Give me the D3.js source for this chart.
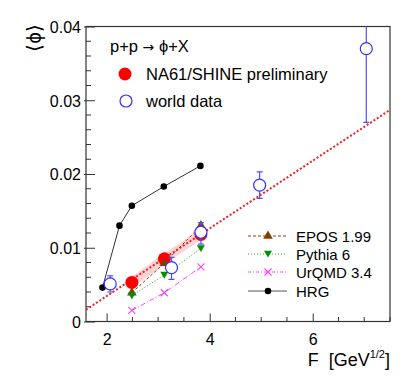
<!DOCTYPE html>
<meta charset="utf-8">
<style>
body { margin: 0; background: #fff; }
text { font-family: "Liberation Sans", Arial, sans-serif; fill: #000; }
</style>
<svg width="415" height="382"></svg>
<script src="https://d3js.org/d3.v7.min.js"></script>
<script>

// NA61/SHINE preliminary
var na61F = [2.49, 3.12, 3.83];
var na61Phi = [0.0053, 0.0085, 0.0118];

// world data with errors
var worldF = [2.07, 3.26, 3.83, 4.97, 7.04];
var worldPhi = [0.0051, 0.0073, 0.0121, 0.0185, 0.0370];
var worldLo = [0.0040, 0.0057, 0.0105, 0.0167, 0.0270];
var worldHi = [0.0062, 0.0087, 0.0134, 0.0203, 0.0420];

// models
var modelF = [2.49, 3.12, 3.83];
var eposPhi = [0.0039, 0.0079, 0.0130];
var pythiaPhi = [0.0035, 0.0063, 0.0099];
var urqmdPhi = [0.0015, 0.0039, 0.0074];

var hrgF = [1.92, 2.25, 2.49, 3.11, 3.82];
var hrgPhi = [0.0046, 0.0130, 0.0157, 0.0183, 0.0211];

// linear fit  phi = a + b*F
var fitA = -0.00574, fitB = 0.00459;

var xTicks = [2, 4, 6];
var yTicks = [0, 0.01, 0.02, 0.03, 0.04];

var svg = d3.select("svg");
var mLeft = 86, mRight = 390, mTop = 26.5, mBottom = 321.5;

var x = d3.scaleLinear().domain([1.6, 7.5]).range([mLeft, mRight]);
var y = d3.scaleLinear().domain([0, 0.04]).range([mBottom, mTop]);

var defs = svg.append("defs");
defs.append("clipPath").attr("id", "clip")
  .append("rect").attr("x", mLeft).attr("y", mTop).attr("width", mRight - mLeft).attr("height", mBottom - mTop);

// frame
svg.append("rect")
    .attr("x", mLeft).attr("y", mTop)
    .attr("width", mRight - mLeft).attr("height", mBottom - mTop)
    .attr("fill", "none").attr("stroke", "#333").attr("stroke-width", 1.2);

// axes (ticks inside, ROOT style)
var xAxis = d3.axisBottom(x).tickValues(xTicks).tickFormat(d3.format("d")).tickSizeInner(-8).tickSizeOuter(0).tickPadding(12);
var gx = svg.append("g").attr("transform", "translate(0," + mBottom + ")").call(xAxis);
var yAxis = d3.axisLeft(y).tickValues(yTicks).tickFormat(function(d) { return d === 0 ? "0" : d3.format(".2f")(d); })
    .tickSizeInner(-9).tickSizeOuter(0).tickPadding(5);
var gy = svg.append("g").attr("transform", "translate(" + mLeft + ",0)").call(yAxis);
[gx, gy].forEach(function(g) {
  g.select(".domain").remove();
  g.attr("font-size", null).attr("font-family", null);
  g.selectAll(".tick line").attr("stroke", "#333");
  g.selectAll("text").attr("font-size", 16).attr("fill", "#000");
});
gy.selectAll(".tick line").attr("x1", -2);
gy.selectAll("text").attr("dy", "0.36em");

// minor ticks
svg.append("g").selectAll("line")
  .data(d3.range(2, 7.51, 0.5).filter(function(v) { return xTicks.indexOf(v) < 0; }))
  .enter().append("line")
    .attr("x1", function(d) { return x(d); }).attr("x2", function(d) { return x(d); })
    .attr("y1", mBottom).attr("y2", mBottom - 4.5)
    .attr("stroke", "#333");
svg.append("g").selectAll("line")
  .data(d3.range(0, 0.0401, 0.002).filter(function(v) { return Math.abs(v * 100 - Math.round(v * 100)) > 1e-6; }))
  .enter().append("line")
    .attr("x1", mLeft).attr("x2", mLeft + 5)
    .attr("y1", function(d) { return y(d); }).attr("y2", function(d) { return y(d); })
    .attr("stroke", "#333");

// axis titles
svg.append("text")
    .attr("transform", "translate(41,38) rotate(-90)")
    .attr("text-anchor", "middle").attr("font-size", 20)
    .text("\u27E8\u03D5\u27E9");
var xt = svg.append("text")
    .attr("x", 390).attr("y", 366)
    .attr("text-anchor", "end").attr("font-size", 18);
xt.append("tspan").text("F\u00A0\u00A0[GeV");
xt.append("tspan").attr("font-size", 11).attr("dy", -8).text("1/2");
xt.append("tspan").attr("dy", 8).text("]");

var plot = svg.append("g").attr("clip-path", "url(#clip)");

function pts(F, P) { return F.map(function(f, i) { return [f, P[i]]; }); }
var line = d3.line().x(function(d) { return x(d[0]); }).y(function(d) { return y(d[1]); });

// red band along NA61 points
plot.append("path")
    .attr("d", line(pts(na61F, na61Phi)))
    .attr("fill", "none").attr("stroke", "#ff9090").attr("stroke-opacity", 0.4).attr("stroke-width", 9);

// fit line
plot.append("path")
    .attr("d", line([[1.6, fitA + fitB * 1.6], [7.5, fitA + fitB * 7.5]]))
    .attr("fill", "none").attr("stroke", "#f02020").attr("stroke-width", 2).attr("stroke-dasharray", "2,2");

// HRG
plot.append("path").attr("d", line(pts(hrgF, hrgPhi)))
    .attr("fill", "none").attr("stroke", "#333").attr("stroke-width", 1);
plot.selectAll(".hrg").data(pts(hrgF, hrgPhi)).enter().append("circle")
    .attr("cx", function(d) { return x(d[0]); }).attr("cy", function(d) { return y(d[1]); })
    .attr("r", 3.3).attr("fill", "#000");

// model lines
plot.append("path").attr("d", line(pts(modelF, eposPhi)))
    .attr("fill", "none").attr("stroke", "#8b4513").attr("stroke-width", 1).attr("stroke-dasharray", "3,2");
plot.append("path").attr("d", line(pts(modelF, pythiaPhi)))
    .attr("fill", "none").attr("stroke", "#20b020").attr("stroke-width", 1).attr("stroke-dasharray", "1,2");
plot.append("path").attr("d", line(pts(modelF, urqmdPhi)))
    .attr("fill", "none").attr("stroke", "#ff40ff").attr("stroke-width", 1).attr("stroke-dasharray", "5,2,1,2");

var triUp = d3.symbol().type(d3.symbolTriangle).size(40);
function triDown(cx, cy, s) { return "M" + (cx - s) + "," + (cy - s * 0.8) + "L" + (cx + s) + "," + (cy - s * 0.8) + "L" + cx + "," + (cy + s * 0.9) + "Z"; }
function cross(cx, cy, s) { return "M" + (cx - s) + "," + (cy - s) + "L" + (cx + s) + "," + (cy + s) + "M" + (cx - s) + "," + (cy + s) + "L" + (cx + s) + "," + (cy - s); }

// NA61 red filled circles
plot.selectAll(".na61").data(pts(na61F, na61Phi)).enter().append("circle")
    .attr("cx", function(d) { return x(d[0]); }).attr("cy", function(d) { return y(d[1]); })
    .attr("r", 6.5).attr("fill", "#ff0000");

// EPOS
plot.selectAll(".epos").data(pts(modelF, eposPhi)).enter().append("path")
    .attr("transform", function(d) { return "translate(" + x(d[0]) + "," + y(d[1]) + ")"; })
    .attr("d", triUp).attr("fill", "#7f3f00");
// Pythia
plot.selectAll(".pythia").data(pts(modelF, pythiaPhi)).enter().append("path")
    .attr("d", function(d) { return triDown(x(d[0]), y(d[1]), 4); }).attr("fill", "#009000");
// UrQMD
plot.selectAll(".urqmd").data(pts(modelF, urqmdPhi)).enter().append("path")
    .attr("d", function(d) { return cross(x(d[0]), y(d[1]), 3.5); })
    .attr("stroke", "#ff40ff").attr("stroke-width", 1.1).attr("fill", "none");

// world data
var world = worldF.map(function(f, i) { return { f: f, v: worldPhi[i], lo: worldLo[i], hi: worldHi[i] }; });
var wg = plot.selectAll(".world").data(world).enter().append("g");
wg.append("line")
    .attr("x1", function(d) { return x(d.f); }).attr("x2", function(d) { return x(d.f); })
    .attr("y1", function(d) { return y(d.lo); }).attr("y2", function(d) { return y(d.hi); })
    .attr("stroke", "#5050ff").attr("stroke-width", 1.2);
["lo", "hi"].forEach(function(k) {
  wg.append("line")
      .attr("x1", function(d) { return x(d.f) - 3; }).attr("x2", function(d) { return x(d.f) + 3; })
      .attr("y1", function(d) { return y(d[k]); }).attr("y2", function(d) { return y(d[k]); })
      .attr("stroke", "#5050ff").attr("stroke-width", 1.2);
});
wg.append("circle")
    .attr("cx", function(d) { return x(d.f); }).attr("cy", function(d) { return y(d.v); })
    .attr("r", 6).attr("fill", "#fff").attr("stroke", "#3030ff").attr("stroke-width", 1.2);

// legend top
var t0 = svg.append("text").attr("x", 110).attr("y", 52).attr("font-size", 16.5);
t0.append("tspan").text("p+p ");
t0.append("tspan").attr("font-family", "DejaVu Sans").attr("font-size", 14).text("\u2192");
t0.append("tspan").text(" \u03D5+X");
svg.append("circle").attr("cx", 125).attr("cy", 74).attr("r", 6.5).attr("fill", "#ff0000");
svg.append("text").attr("x", 146).attr("y", 80).attr("font-size", 16.5).text("NA61/SHINE preliminary");
svg.append("circle").attr("cx", 126).attr("cy", 101).attr("r", 6).attr("fill", "none").attr("stroke", "#3030ff").attr("stroke-width", 1.2);
svg.append("text").attr("x", 146).attr("y", 107).attr("font-size", 16.5).text("world data");

// legend models
var lgY = [236, 254, 272, 291];
var lg = svg.append("g");
lg.append("line").attr("x1", 248).attr("x2", 287).attr("y1", lgY[0]).attr("y2", lgY[0])
    .attr("stroke", "#8b4513").attr("stroke-dasharray", "3,2");
lg.append("path").attr("transform", "translate(268," + lgY[0] + ")").attr("d", triUp).attr("fill", "#7f3f00");
lg.append("line").attr("x1", 248).attr("x2", 287).attr("y1", lgY[1]).attr("y2", lgY[1])
    .attr("stroke", "#20b020").attr("stroke-dasharray", "1,2");
lg.append("path").attr("d", triDown(268, lgY[1], 4)).attr("fill", "#009000");
lg.append("line").attr("x1", 248).attr("x2", 287).attr("y1", lgY[2]).attr("y2", lgY[2])
    .attr("stroke", "#ff40ff").attr("stroke-dasharray", "3,2,1,2");
lg.append("path").attr("d", cross(268, lgY[2], 3.5)).attr("stroke", "#ff40ff").attr("stroke-width", 1.1);
lg.append("line").attr("x1", 248).attr("x2", 287).attr("y1", lgY[3]).attr("y2", lgY[3])
    .attr("stroke", "#555");
lg.append("circle").attr("cx", 268).attr("cy", lgY[3]).attr("r", 3.3).attr("fill", "#000");
["EPOS 1.99", "Pythia 6", "UrQMD 3.4", "HRG"].forEach(function(t, i) {
  lg.append("text").attr("x", 296).attr("y", lgY[i] + 5.5).attr("font-size", 15).text(t);
});

</script>
